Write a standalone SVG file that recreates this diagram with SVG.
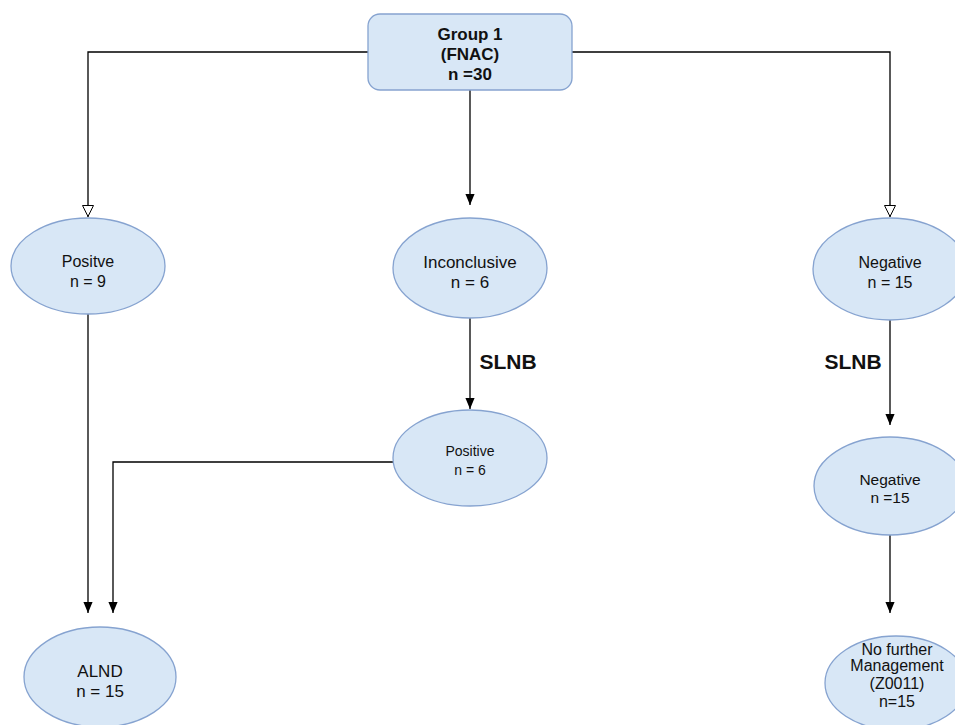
<svg xmlns="http://www.w3.org/2000/svg" width="955" height="725" viewBox="0 0 955 725">
<defs>
<marker id="filled" viewBox="0 0 12 12" refX="12" refY="6" markerWidth="11" markerHeight="12" markerUnits="userSpaceOnUse" orient="auto">
<path d="M0,1 L12,6 L0,11 Z" fill="#000"/>
</marker>
<marker id="hol" viewBox="0 0 12 12" refX="12" refY="6" markerWidth="12" markerHeight="12" markerUnits="userSpaceOnUse" orient="auto">
<path d="M0.5,0.5 L11.5,6 L0.5,11.5 Z" fill="#fff" stroke="#000" stroke-width="1"/>
</marker>
</defs>
<style>
.node{fill:#d8e7f6;stroke:#86a3d0;stroke-width:1.3}
.t{font-family:"Liberation Sans",Arial,sans-serif;fill:#111;text-anchor:middle}
.b{font-weight:bold}
.line{fill:none;stroke:#000;stroke-width:1.3}
</style>
<rect width="955" height="725" fill="#fff"/>
<g id="connectors">
<path class="line" d="M368,52 H88 V217" marker-end="url(#hol)"/>
<path class="line" d="M572,52 H890 V217" marker-end="url(#hol)"/>
<path class="line" d="M470,90 V205" marker-end="url(#filled)"/>
<path class="line" d="M470,318 V409" marker-end="url(#filled)"/>
<path class="line" d="M890,320 V425" marker-end="url(#filled)"/>
<path class="line" d="M88,313 V613" marker-end="url(#filled)"/>
<path class="line" d="M393,462 H113 V613" marker-end="url(#filled)"/>
<path class="line" d="M890,535 V613" marker-end="url(#filled)"/>
<text class="t b" x="508" y="369" font-size="21">SLNB</text>
<text class="t b" x="853" y="369" font-size="21">SLNB</text>
</g>
<g id="group1">
<rect class="node" x="368" y="14" width="204" height="76" rx="12"/>
<text class="t b" x="470" y="40" font-size="17">Group 1</text>
<text class="t b" x="470" y="60" font-size="17">(FNAC)</text>
<text class="t b" x="470" y="80" font-size="17">n =30</text>
</g>
<g id="positive">
<ellipse class="node" cx="88" cy="266" rx="77" ry="48"/>
<text class="t" x="88" y="267" font-size="16">Positve</text>
<text class="t" x="88" y="287" font-size="16">n = 9</text>
</g>
<g id="inconclusive">
<ellipse class="node" cx="470" cy="268" rx="77" ry="50"/>
<text class="t" x="470" y="268" font-size="17">Inconclusive</text>
<text class="t" x="470" y="288" font-size="17">n = 6</text>
</g>
<g id="negative">
<ellipse class="node" cx="890" cy="269" rx="77" ry="51"/>
<text class="t" x="890" y="268" font-size="16">Negative</text>
<text class="t" x="890" y="288" font-size="16">n = 15</text>
</g>
<g id="positive2">
<ellipse class="node" cx="470" cy="458" rx="77" ry="48"/>
<text class="t" x="470" y="456" font-size="14">Positive</text>
<text class="t" x="470" y="475" font-size="14">n = 6</text>
</g>
<g id="negative2">
<ellipse class="node" cx="890" cy="486" rx="76" ry="49"/>
<text class="t" x="890" y="485" font-size="15.5">Negative</text>
<text class="t" x="890" y="503" font-size="15.5">n =15</text>
</g>
<g id="alnd">
<ellipse class="node" cx="100" cy="677" rx="76" ry="50"/>
<text class="t" x="100" y="677" font-size="17">ALND</text>
<text class="t" x="100" y="697" font-size="17">n = 15</text>
</g>
<g id="nofurther">
<ellipse class="node" cx="896" cy="683" rx="71" ry="47"/>
<text class="t" x="897" y="655" font-size="16">No further</text>
<text class="t" x="897" y="671" font-size="16">Management</text>
<text class="t" x="897" y="689" font-size="16">(Z0011)</text>
<text class="t" x="897" y="707" font-size="16">n=15</text>
</g>
</svg>
